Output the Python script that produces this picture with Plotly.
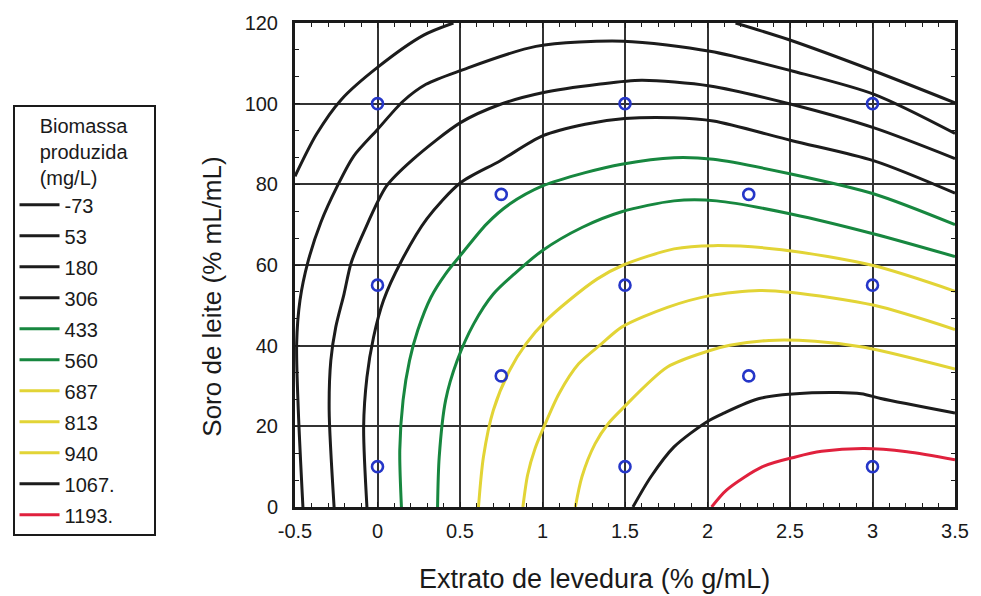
import plotly.graph_objects as go

# ---- data ----
levels = ["-73", "53", "180", "306", "433", "560", "687", "813", "940", "1067.", "1193."]

# contour -73 (two pieces, separated by None)
c_m73_x = [0.46, 0.28, 0.0, -0.22, -0.37, -0.5, None, 2.17, 2.49, 3.01, 3.5]
c_m73_y = [120, 117, 109, 101, 92.4, 82, None, 120, 115.9, 108.1, 100.2]

c_53_x = [-0.452, -0.48, -0.49, -0.47, -0.42, -0.343, -0.243, -0.144, 0.0, 0.155, 0.294, 0.503, 0.96, 1.49, 2.015, 2.513, 3.01, 3.5]
c_53_y = [0, 24, 40.5, 51.2, 61, 70.6, 79.6, 87, 93.6, 100.6, 104.8, 108.2, 114.2, 115.5, 113, 108.1, 102.3, 92.6]

c_180_x = [-0.263, -0.293, -0.283, -0.253, -0.203, -0.16, -0.084, 0.055, 0.215, 0.503, 0.742, 1.0, 1.339, 1.6, 2.015, 2.513, 3.01, 3.5]
c_180_y = [0, 24, 36.3, 44.6, 52.8, 60.5, 68.1, 79.6, 86.2, 95.3, 99.8, 102.7, 104.8, 105.8, 104.4, 99.8, 94.0, 86.4]

c_306_x = [-0.064, -0.084, -0.064, -0.024, 0.036, 0.145, 0.30, 0.503, 0.742, 1.0, 1.259, 1.498, 1.797, 2.035, 2.513, 3.01, 3.5]
c_306_y = [0, 19.9, 32.2, 42.1, 51.2, 61, 71.5, 80.4, 85.8, 92, 94.9, 96.3, 96.5, 95.7, 90.8, 85.8, 77.8]

c_433_x = [0.145, 0.135, 0.155, 0.194, 0.244, 0.324, 0.413, 0.503, 0.662, 0.801, 1.0, 1.259, 1.48, 1.797, 2.035, 2.513, 3.01, 3.5]
c_433_y = [0, 14.1, 26.5, 36.3, 43.8, 52, 57.8, 62.4, 70.2, 75.1, 79.6, 82.9, 85, 86.6, 86.2, 82.5, 77.6, 70.0]

c_560_x = [0.364, 0.374, 0.413, 0.483, 0.583, 0.702, 0.83, 1.0, 1.239, 1.48, 1.797, 2.055, 2.513, 3.01, 3.5]
c_560_y = [0, 12.4, 26.5, 36.3, 45.4, 52.8, 57.8, 63.6, 69.3, 73.2, 75.9, 75.9, 72.6, 67.7, 62.1]

c_687_x = [0.612, 0.642, 0.702, 0.801, 0.901, 1.021, 1.16, 1.33, 1.49, 1.797, 2.035, 2.45, 3.01, 3.5]
c_687_y = [0, 12.4, 24, 33.9, 40.5, 46.2, 51.2, 56.5, 60.0, 64, 64.8, 63.8, 59.8, 53.5]

c_813_x = [0.881, 0.91, 0.955, 1.01, 1.1, 1.219, 1.359, 1.48, 1.757, 2.015, 2.314, 2.513, 3.01, 3.5]
c_813_y = [0, 8, 14.5, 20, 28.1, 35.5, 40.5, 44.6, 49.5, 52.4, 53.7, 53.2, 50, 44.0]

c_940_x = [1.199, 1.239, 1.319, 1.399, 1.48, 1.757, 2.015, 2.135, 2.373, 2.652, 2.95, 3.5]
c_940_y = [0, 7.5, 15.7, 20.7, 24.2, 34.7, 38.8, 40.1, 41.3, 41.1, 39.6, 34.2]

c_1067_x = [1.548, 1.657, 1.797, 1.995, 2.095, 2.314, 2.633, 2.931, 3.05, 3.5]
c_1067_y = [0, 7.5, 14.9, 21.1, 23.2, 26.9, 28.3, 28.1, 26.9, 23.3]

c_1193_x = [2.025, 2.115, 2.334, 2.533, 2.692, 2.95, 3.209, 3.5]
c_1193_y = [0, 4.2, 10, 12.4, 13.8, 14.5, 13.7, 11.7]

contour_x = [c_m73_x, c_53_x, c_180_x, c_306_x, c_433_x, c_560_x, c_687_x, c_813_x, c_940_x, c_1067_x, c_1193_x]
contour_y = [c_m73_y, c_53_y, c_180_y, c_306_y, c_433_y, c_560_y, c_687_y, c_813_y, c_940_y, c_1067_y, c_1193_y]

# experimental design points
design_x = [0, 1.5, 3, 0.75, 2.25, 0, 1.5, 3, 0.75, 2.25, 0, 1.5, 3]
design_y = [100, 100, 100, 77.5, 77.5, 55, 55, 55, 32.5, 32.5, 10, 10, 10]

x_ticks = [-0.5, 0, 0.5, 1, 1.5, 2, 2.5, 3, 3.5]
x_ticklabels = ["-0.5", "0", "0.5", "1", "1.5", "2", "2.5", "3", "3.5"]
y_ticks = [0, 20, 40, 60, 80, 100, 120]

# ---- styles ----
BLACK = "#1c1c1c"
GREEN = "#17873f"
YELLOW = "#e2d436"
RED = "#e0213d"
line_colors = [BLACK, BLACK, BLACK, BLACK, GREEN, GREEN, YELLOW, YELLOW, YELLOW, BLACK, RED]
FONT = "Arial, 'Liberation Sans', Helvetica, sans-serif"
TXT = "#1a1a1a"
PAD = "\u00a0" * 6  # invisible padding to widen the legend box

fig = go.Figure()
for i, (lab, xs, ys) in enumerate(zip(levels, contour_x, contour_y)):
    fig.add_trace(go.Scatter(
        x=xs, y=ys, mode="lines", name=lab + PAD,
        line=dict(color=line_colors[i], width=3, shape="spline", smoothing=0.8),
        connectgaps=False, legendgroup=f"g{i}", cliponaxis=True,
    ))

fig.add_trace(go.Scatter(
    x=design_x, y=design_y, mode="markers", showlegend=False,
    marker=dict(symbol="circle-open", size=11, color="#2536c8", line=dict(width=2.6)),
))

fig.update_layout(
    width=981, height=596,
    margin=dict(l=292, r=19, t=22, b=89),
    paper_bgcolor="white", plot_bgcolor="white",
    font=dict(family=FONT, size=20, color=TXT),
    showlegend=True,
    legend=dict(
        x=-0.428, xanchor="left", y=0.83, yanchor="top",
        bordercolor=TXT, borderwidth=2, bgcolor="white",
        font=dict(family=FONT, size=20, color=TXT),
        title=dict(text="Biomassa<br>produzida<br>(mg/L)", side="top center",
                   font=dict(family=FONT, size=20, color=TXT)),
        traceorder="grouped", tracegroupgap=2,
        itemwidth=40,
    ),
    xaxis=dict(
        range=[-0.5, 3.5], tickvals=x_ticks, ticktext=x_ticklabels,
        showgrid=True, gridcolor="#333333", gridwidth=2.2,
        showline=True, linecolor=TXT, linewidth=3, mirror="allticks",
        ticks="inside", ticklen=5, tickcolor=TXT,
        minor=dict(dtick=0.1, ticks="inside", ticklen=4, tickcolor=TXT, showgrid=False),
        zeroline=False, ticklabelstandoff=4,
        tickfont=dict(size=20),
    ),
    yaxis=dict(
        range=[0, 120], tickvals=y_ticks,
        showgrid=True, gridcolor="#333333", gridwidth=2.2,
        showline=True, linecolor=TXT, linewidth=3, mirror="allticks",
        ticks="inside", ticklen=5, tickcolor=TXT,
        minor=dict(dtick=20 / 3, tick0=0, ticks="inside", ticklen=4, tickcolor=TXT, showgrid=False),
        zeroline=False, ticklabelstandoff=10,
        tickfont=dict(size=20),
    ),
)

fig.add_annotation(
    text="Extrato de levedura (% g/mL)", xref="paper", yref="paper",
    x=(596 - 292) / 670, y=-(579 - 507) / 485, xanchor="center", yanchor="middle",
    showarrow=False, font=dict(family=FONT, size=27, color=TXT),
)
fig.add_annotation(
    text="Soro de leite (% mL/mL)", xref="paper", yref="paper", textangle=-90,
    x=(208 - 292) / 670, y=(507 - 296) / 485, xanchor="center", yanchor="middle",
    showarrow=False, font=dict(family=FONT, size=26, color=TXT),
)

fig.write_html("out.html")
